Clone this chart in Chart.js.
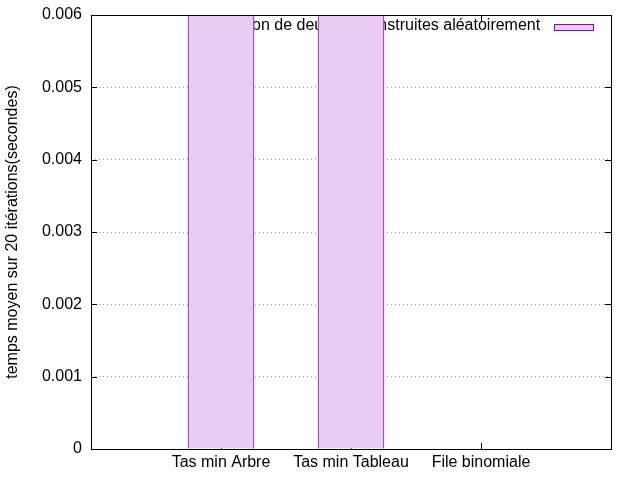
<!DOCTYPE html>
<html>
<head>
<meta charset="utf-8">
<title>Temps moyen</title>
<script src="https://cdn.jsdelivr.net/npm/chart.js"></script>
<style>
  html, body { margin: 0; padding: 0; background: #fff; }
  #wrap { width: 640px; height: 480px; }
</style>
</head>
<body>
<div id="wrap"><canvas id="chart" width="640" height="480"></canvas></div>
<script>
// données
const categories = ['Tas min Arbre', 'Tas min Tableau', 'File binomiale'];
const tempsMoyen = [0.0085, 0.0075, 0];
const serieLabel = 'Union de deux tas construites aléatoirement';
const yTicks = [0, 0.001, 0.002, 0.003, 0.004, 0.005, 0.006];

const FONT = 'Liberation Sans, Arial, sans-serif';
const violet = 'rgb(148, 0, 211)';
const lavande = 'rgb(232, 204, 244)';

// une case vide de chaque côté, comme gnuplot
const labels = [''].concat(categories, ['']);
const values = [null].concat(tempsMoyen, [null]);

// légende dans le cadre + petites graduations vers l'intérieur
const gnuplotLook = {
    id: 'gnuplotLook',
    beforeDatasetsDraw(chart) {
        const ctx = chart.ctx;
        const a = chart.chartArea;
        const x = chart.scales.x, y = chart.scales.y;
        ctx.save();
        ctx.strokeStyle = '#000';
        ctx.lineWidth = 1;
        ctx.beginPath();
        yTicks.forEach(v => {
            const py = Math.round(y.getPixelForValue(v)) + 0.5;
            ctx.moveTo(a.left, py); ctx.lineTo(a.left + 6, py);
            ctx.moveTo(a.right, py); ctx.lineTo(a.right - 6, py);
        });
        categories.forEach((c, i) => {
            const px = Math.round(x.getPixelForValue(i + 1)) + 0.5;
            ctx.moveTo(px, a.bottom); ctx.lineTo(px, a.bottom - 6);
            ctx.moveTo(px, a.top); ctx.lineTo(px, a.top + 6);
        });
        ctx.stroke();

        // légende (le texte passe sous les barres, comme dans gnuplot)
        const label = chart.data.datasets[0].label;
        ctx.font = '16px ' + FONT;
        ctx.fillStyle = '#000';
        ctx.textAlign = 'left';
        ctx.textBaseline = 'middle';
        const x0 = 252 - ctx.measureText('Uni').width;
        ctx.fillText(label, x0, 26);
        ctx.fillStyle = lavande;
        ctx.fillRect(554, 24, 40, 6);
        ctx.strokeStyle = violet;
        ctx.strokeRect(554.5, 24.5, 39, 6);
        ctx.restore();
    },
    afterDatasetsDraw(chart) {
        const ctx = chart.ctx;
        const a = chart.chartArea;
        ctx.save();
        ctx.strokeStyle = '#000';
        ctx.lineWidth = 1;
        ctx.strokeRect(Math.round(a.left) + 0.5, Math.round(a.top) + 0.5,
            Math.round(a.right - a.left), Math.round(a.bottom - a.top));
        ctx.restore();
    }
};

new Chart(document.getElementById('chart'), {
    type: 'bar',
    data: {
        labels: labels,
        datasets: [{
            label: serieLabel,
            data: values,
            backgroundColor: lavande,
            borderColor: violet,
            borderWidth: 1,
            borderSkipped: 'start',
            barThickness: 66,
            clip: 0
        }]
    },
    options: {
        responsive: false,
        animation: false,
        layout: { padding: { left: 0, right: 29, top: 12, bottom: 0 } },
        plugins: {
            legend: { display: false },
            tooltip: { enabled: false }
        },
        scales: {
            x: {
                offset: false,
                grid: { display: false, drawTicks: false },
                border: { display: false },
                ticks: {
                    color: '#000',
                    font: { family: FONT, size: 16 },
                    padding: 4,
                    autoSkip: false,
                    maxRotation: 0
                },
                afterFit(scale) { scale.height = 31; }
            },
            y: {
                min: 0,
                max: 0.006,
                afterBuildTicks(scale) { scale.ticks = yTicks.map(v => ({ value: v })); },
                grid: {
                    drawTicks: false,
                    color: ctx => (ctx.tick && (ctx.tick.value === 0 || ctx.tick.value === 0.006)) ? 'rgba(0,0,0,0)' : '#a0a0a0'
                },
                border: { display: false, dash: [1, 3] },
                ticks: {
                    color: '#000',
                    font: { family: FONT, size: 16, lineHeight: 0.75 },
                    padding: 9,
                    callback: v => v === 0 ? '0' : v.toFixed(3)
                },
                title: {
                    display: true,
                    text: 'temps moyen sur 20 itérations(secondes)',
                    color: '#000',
                    font: { family: FONT, size: 16 },
                    padding: { top: 3, bottom: 0 }
                },
                afterFit(scale) { scale.width = 91; }
            }
        }
    },
    plugins: [gnuplotLook]
});
</script>
</body>
</html>
